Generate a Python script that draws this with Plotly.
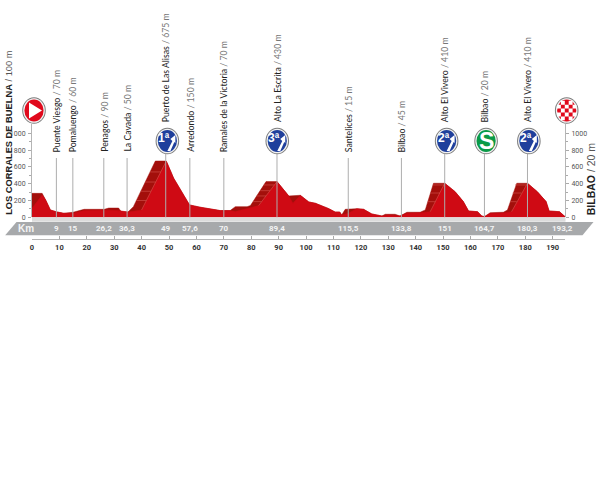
import plotly.graph_objects as go

# ---------- data ----------
profile_km = [0,3.7,5,6.7,9.2,11.6,15,19,26.4,28,31.6,32.5,35,37,45,49,51.7,57.5,61.4,68.7,72.3,74.2,78.5,79.7,85.4,89.4,93.7,97.9,101,103.4,108.3,110.6,112.3,113,114.3,118.5,121,124,127.7,128.9,132.5,134.3,136.8,141.6,143.5,146.5,150.6,154.4,157.4,159.3,162.6,164.1,165.1,167.2,172,173.5,176.9,180.8,184.4,187.6,188.7,192.5,194.5]
profile_m = [285,285,206,87,63,48,60,95,95,110,110,70,63,127,670,670,465,147,120,80,80,127,127,139,425,425,254,262,183,167,103,63,63,28,95,103,95,40,16,36,36,16,60,60,87,405,405,305,187,75,67,16,8,55,60,87,405,405,305,187,75,67,8]
front_km = [0,3.7,5,6.7,9.2,11.6,15,19,26.4,31.6,35,40,49,51.7,57.5,61.4,68.7,72.3,74.2,77.3,79.7,82.7,89.4,93.7,95.2,97.9,101,103.4,108.3,110.6,112.3,113,115.4,118.5,121,124,127.7,130,134.3,136.8,141.6,145.3,150.6,154.4,157.4,159.3,162.6,164.1,165.1,167.2,172,175,180.8,184.4,187.6,188.7,192.5,194.5]
front_m = [107,265,206,87,63,48,48,80,87,80,63,87,670,465,147,120,80,80,68,95,119,139,425,254,167,262,183,167,103,63,63,28,48,103,95,40,16,28,16,48,55,66,405,305,187,75,67,16,8,45,52,66,405,305,187,75,67,8]
stripe_km = [38.1,41.7,None,39.7,43.4,None,41.3,45.1,None,43.1,47,None,40,49,None,
             80.7,83.8,None,82,85.4,None,83.3,86.9,None,84.6,88.5,None,82.7,89.4,None,
             144.4,147.2,None,145.4,148.9,None,146.3,150.4,None,145.3,150.6,None,
             174.4,176.9,None,175.4,178.6,None,176.3,180.5,None,175,180.8]
stripe_m = [200,200,None,310,310,None,420,420,None,540,540,None,87,670,None,
            187,187,None,254,254,None,317,317,None,385,385,None,139,425,None,
            186,186,None,289,289,None,385,385,None,66,405,None,
            186,186,None,289,289,None,385,385,None,66,405]

stem_km = [8.9,14.9,26.2,34.7,48.8,57.6,70,89.4,115.4,134.8,150.6,165.1,180.8]
stem_names = ["Puente Viesgo","Pomaluengo","Penagos","La Cavada","Puerto de Las Alisas","Arredondo","Ramales de la Victoria","Alto La Escrita","Santelices","Bilbao","Alto El Vivero","Bilbao","Alto El Vivero"]
stem_alts = ["70 m","60 m","90 m","50 m","675 m","150 m","70 m","430 m","15 m","45 m","410 m","20 m","410 m"]
stem_signed = [False,False,False,False,True,False,False,True,False,False,True,True,True]
km_labels = ["9","15","26,2","36,3","49","57,6","70","89,4","115,5","133,8","151","164,7","180,3","193,2"]
km_label_pos = [8.9,14.9,26.3,34.7,48.8,57.6,70,89.4,115.4,134.8,150.6,165.1,180.8,193.5]
sign_km = [49.4,89.5,151.3,165.7,181.3]
sign_text = ["1ª","3ª","2ª","S","2ª"]
sign_colors = ["#1f3f9c","#1f3f9c","#1f3f9c","#0a9a48","#1f3f9c"]
x_ticks = list(range(0,200,10))
y_ticks = [0,200,400,600,800,1000]
y_minor = [100,300,500,700,900]

# ---------- geometry ----------
PX_KM, PX_M = 2.743, 0.084
L, R, ZERO_PX, RULER_PX, TOP_PX = 31.5, 565.0, 217.3, 239.0, 124.0
km_end = (R-L)/PX_KM
m_top = (ZERO_PX-TOP_PX)/PX_M
dom0 = (RULER_PX-ZERO_PX)/(RULER_PX-TOP_PX)
m_of = lambda py: (ZERO_PX-py)/PX_M
km_of = lambda px: (px-L)/PX_KM
xp = lambda km: km/km_end
yp = lambda m: (RULER_PX-(ZERO_PX-m*PX_M))/(RULER_PX-TOP_PX)

LABEL = "Lato"
SMALL = "Roboto"
fig = go.Figure()

fig.add_trace(go.Scatter(x=profile_km,y=profile_m,mode="lines",fill="tozeroy",line=dict(color="#a30f0b",width=0.5),fillcolor="#a30f0b",hoverinfo="skip"))
fig.add_trace(go.Scatter(x=front_km,y=front_m,mode="lines",fill="tozeroy",line=dict(color="#cf0a14",width=0.5),fillcolor="#cf0a14",hoverinfo="skip"))
fig.add_trace(go.Scatter(x=stripe_km,y=stripe_m,mode="lines",line=dict(color="#cf4a45",width=0.7),hoverinfo="skip"))

sx, sy = [], []
for k,s in zip(stem_km,stem_signed):
    sx += [k,k,None]
    sy += [m_of(221.5), m_of(141 if s else 158), None]
fig.add_trace(go.Scatter(x=sx,y=sy,mode="lines",line=dict(color="#adadad",width=1),hoverinfo="skip",cliponaxis=False))
fig.add_trace(go.Scatter(x=[0,km_end],y=[0,0],yaxis="y2",mode="lines",line=dict(width=0),hoverinfo="skip"))

shapes=[]
def px_shape(kind,km,m,fill,layer="above",**kw):
    d=dict(type=kind,xref="paper",yref="paper",xsizemode="pixel",ysizemode="pixel",xanchor=xp(km),yanchor=yp(m),
           fillcolor=fill,line=dict(width=0),layer=layer)
    d.update(kw); shapes.append(d)
def ellipse(km,m,a,b,fill):
    px_shape("circle",km,m,fill,x0=-a,x1=a,y0=-b,y1=b)
def sign(km,py,fill):
    m=m_of(py)
    ellipse(km,m,11.8,13.2,"#7d7d7d")
    ellipse(km,m,10.8,12.3,"#f2f2f2")
    ellipse(km,m,9.6,11.1,fill)
    return m

# grey band, light strip
px_shape("rect",0,0,"#dcdcdc",layer="below",x0=0,x1=R-L,y0=-4.4,y1=-0.3)
px_shape("path",0,0,"#a7a9ab",layer="below",
         path=f"M {16-L} {-4.6} L {593-L} {-4.6} L {582-L} {-17.9} L {4.7-L} {-17.9} Z")

# start sign
m=sign(km_of(33.5),110.5,"#e0091c")
px_shape("path",km_of(33.5),m,"#ffffff",path="M -5 8 L 8 0 L -5 -8 Z")
# finish sign
fk=km_of(566.7)
m=sign(fk,110.5,"#e0091c")
p=""
for i in range(-2,3):
    for j in range(-3,3):
        if (i+j)%2==0:
            x0,y0=i*3.9-1.9,j*3.9+1.9
            if ((x0+1.9)/9)**2+((y0+1.9)/10.5)**2<1:
                p+=f"M {x0} {y0} L {x0+3.9} {y0} L {x0+3.9} {y0+3.9} L {x0} {y0+3.9} Z "
px_shape("path",fk,m,"#ffffff",path=p)

annotations=[]
def note(text,x,y,size,color="#222",angle=0,family=LABEL,xa="center",ya="middle",xs=0,ys=0):
    annotations.append(dict(text=text,x=xp(x),y=yp(y),xref="paper",yref="paper",showarrow=False,textangle=angle,
        font=dict(family=family,size=size,color=color),xanchor=xa,yanchor=ya,xshift=xs,yshift=ys,align="left"))

# climb and sprint signs
for k,t,c in zip(sign_km,sign_text,sign_colors):
    m=sign(k,141,c)
    if t=="S":
        note("<b>S</b>",k,m,23,"#ffffff",family="Liberation Sans")
    else:
        px_shape("path",k,m,"#ffffff",path="M 0 -10 L 5 0 L 3 2 L 8 6 L 8 -2 L 7 -1 L 3 -10 Z")
        note(f"<b>{t}</b>",k,m,12,"#ffffff",family="Liberation Sans",xs=-3,ys=3)

# rotated names
for k,n,a,s in zip(stem_km,stem_names,stem_alts,stem_signed):
    note(f'{n} <span style="color:#777">/ {a}</span>',k,m_of(124 if s else 154),8.7,"#222",angle=-90,ya="bottom")
note('<b>LOS CORRALES DE BUELNA</b> <span style="color:#555">/ 100 m</span>',km_of(8.5),0,9.3,"#222",angle=-90,family="Liberation Sans",ya="bottom")
note('<b>BILBAO</b> <span style="color:#555">/ 20 m</span>',km_of(590.5),0,10.5,"#222",angle=-90,family="Liberation Sans",ya="bottom")
note("<b>Km</b>",km_of(25),m_of(228.7),10,"#f4f4f4",family="Liberation Sans")
for k,t in zip(km_label_pos,km_labels):
    note(f"<b>{t}</b>",k,m_of(228.7),8,"#f4f4f4",family=SMALL)

yax=dict(range=[0,m_top],domain=[dom0,1],tickmode="array",tickvals=y_ticks,ticks="outside",ticklen=3,tickcolor="#aaaaaa",
         showgrid=False,zeroline=False,showline=True,linecolor="#b5b5b5",linewidth=1,
         tickfont=dict(family=SMALL,size=7,color="#555555"),ticklabelstandoff=1,
         minor=dict(tickmode="array",tickvals=y_minor,ticks="outside",ticklen=2,tickcolor="#aaaaaa"))
fig.update_layout(width=600,height=478,autosize=False,showlegend=False,paper_bgcolor="#ffffff",plot_bgcolor="#ffffff",
    margin=dict(l=L,r=600-R,t=TOP_PX,b=478-RULER_PX,pad=0,autoexpand=False),
    xaxis=dict(range=[0,km_end],anchor="free",position=0,tickmode="array",tickvals=x_ticks,ticks="inside",ticklen=3,
               tickcolor="#aaaaaa",showgrid=False,zeroline=False,showline=True,linecolor="#b5b5b5",linewidth=1,
               tickfont=dict(family=SMALL,size=7.5,color="#333333",weight="bold"),tickangle=0,ticklabelstandoff=1),
    yaxis=yax,
    yaxis2={**yax,"overlaying":"y","side":"right","anchor":"x"},
    shapes=shapes,annotations=annotations)
fig.write_html("out.html",config=dict(displayModeBar=False),
    post_script="document.body.style.margin='0';document.documentElement.style.overflow='hidden';")
